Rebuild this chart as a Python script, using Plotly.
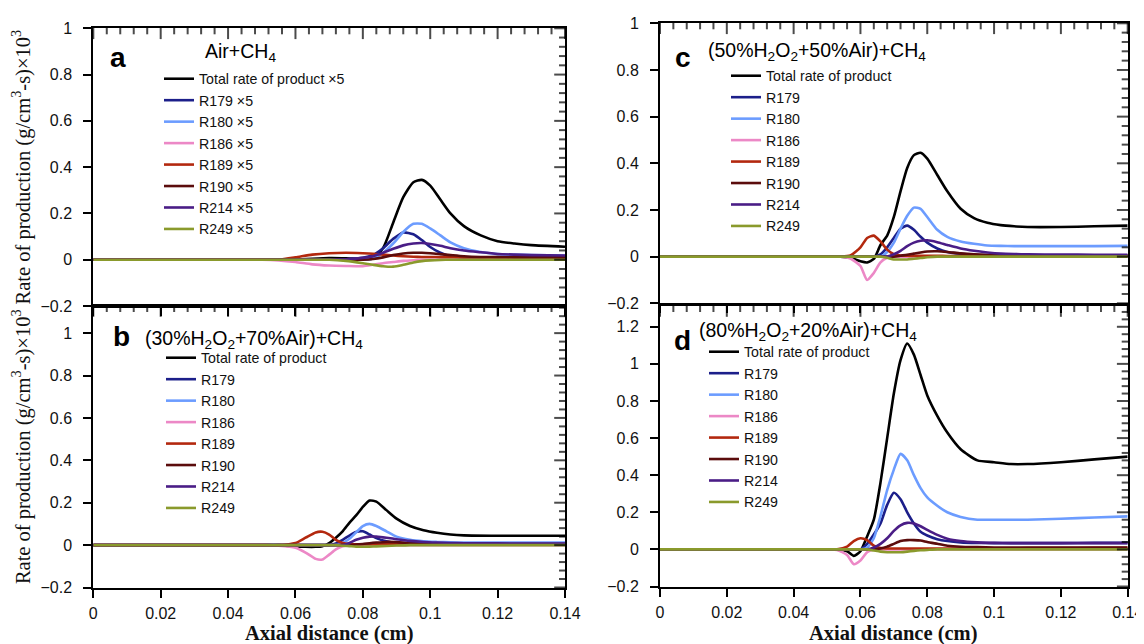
import plotly.graph_objects as go

# ---------------- data ----------------
SERIES_NAMES = ["Total rate of product", "R179", "R180", "R186", "R189", "R190", "R214", "R249"]
PANEL_A_SUFFIX = " ×5"

# Panel a: Air + CH4 (values x5)
A_X = [0, 0.05, 0.055, 0.06, 0.065, 0.07, 0.075, 0.08, 0.083, 0.086, 0.089, 0.092, 0.095,
       0.0975, 0.1, 0.103, 0.106, 0.11, 0.115, 0.12, 0.125, 0.13, 0.14]
A_TOTAL = [0, 0, 0, 0, 0.004, 0.007, 0.006, 0.003, 0.005, 0.05, 0.16, 0.27, 0.335,
           0.345, 0.32, 0.26, 0.2, 0.145, 0.105, 0.08, 0.07, 0.063, 0.056]
A_R179 = [0, 0, 0, 0, 0, 0, 0.002, 0.008, 0.02, 0.05, 0.09, 0.118, 0.11,
          0.085, 0.055, 0.03, 0.015, 0.01, 0.01, 0.011, 0.012, 0.012, 0.012]
A_R180 = [0, 0, 0, 0, 0, 0, 0, 0, 0.005, 0.03, 0.07, 0.12, 0.155,
          0.155, 0.135, 0.105, 0.075, 0.05, 0.033, 0.025, 0.022, 0.02, 0.018]
A_R186 = [0, 0, -0.003, -0.01, -0.02, -0.025, -0.027, -0.028, -0.022, -0.015, -0.01, -0.005, -0.002,
          0, 0, 0, 0, 0, 0, 0, 0, 0, 0]
A_R189 = [0, 0, 0, 0.01, 0.022, 0.028, 0.03, 0.028, 0.026, 0.022, 0.018, 0.015, 0.013,
          0.012, 0.012, 0.011, 0.011, 0.01, 0.01, 0.01, 0.01, 0.01, 0.01]
A_R190 = [0, 0, 0, 0, 0, 0, 0, 0, 0.003, 0.01, 0.02, 0.027, 0.03,
          0.03, 0.028, 0.024, 0.02, 0.015, 0.012, 0.011, 0.01, 0.01, 0.01]
A_R214 = [0, 0, 0, 0, 0, 0, 0.002, 0.008, 0.015, 0.03, 0.047, 0.062, 0.07,
          0.072, 0.068, 0.06, 0.05, 0.04, 0.032, 0.025, 0.022, 0.02, 0.018]
A_R249 = [0, 0, 0, 0, 0, 0, -0.005, -0.015, -0.022, -0.028, -0.03, -0.022, -0.012,
          -0.006, -0.003, -0.001, 0, 0, 0, 0, 0, 0, 0]

# Panel b: (30%H2O2+70%Air)+CH4
B_X = [0, 0.05, 0.055, 0.06, 0.063, 0.066, 0.068, 0.07, 0.072, 0.074, 0.076, 0.078,
       0.08, 0.082, 0.084, 0.087, 0.09, 0.094, 0.098, 0.102, 0.106, 0.11, 0.12, 0.14]
B_TOTAL = [0, 0, 0, -0.006, -0.008, -0.008, -0.005, 0.01, 0.035, 0.065, 0.105, 0.14,
           0.18, 0.21, 0.205, 0.165, 0.125, 0.09, 0.07, 0.058, 0.05, 0.046, 0.044, 0.044]
B_R179 = [0, 0, 0, 0, 0, 0, 0, 0, 0.008, 0.025, 0.045, 0.062,
          0.065, 0.05, 0.033, 0.018, 0.01, 0.006, 0.005, 0.005, 0.005, 0.005, 0.005, 0.005]
B_R180 = [0, 0, 0, 0, 0, 0, 0, 0, 0.002, 0.01, 0.03, 0.06,
          0.09, 0.1, 0.09, 0.065, 0.04, 0.025, 0.018, 0.015, 0.013, 0.012, 0.012, 0.012]
B_R186 = [0, 0, -0.003, -0.012, -0.035, -0.065, -0.068, -0.045, -0.02, -0.005, 0, 0,
          0, 0, 0, 0, 0, 0, 0, 0, 0, 0, 0, 0]
B_R189 = [0, 0, 0, 0.01, 0.035, 0.06, 0.063, 0.05, 0.025, 0.01, 0.005, 0.004,
          0.004, 0.004, 0.004, 0.004, 0.004, 0.003, 0.003, 0.003, 0.003, 0.003, 0.003, 0.003]
B_R190 = [0, 0, 0, 0, 0, 0, 0, 0, 0, 0, 0, 0.003,
          0.005, 0.009, 0.012, 0.015, 0.014, 0.01, 0.008, 0.007, 0.006, 0.005, 0.005, 0.005]
B_R214 = [0, 0, 0, 0, 0, 0, 0, 0, 0, 0, 0.01, 0.025,
          0.035, 0.04, 0.04, 0.035, 0.028, 0.02, 0.015, 0.012, 0.01, 0.009, 0.008, 0.007]
B_R249 = [0, 0, 0, 0, 0, 0, 0, 0, 0, -0.003, -0.005, -0.007,
          -0.008, -0.007, -0.006, -0.004, -0.002, 0, 0, 0, 0, 0, 0, 0]

# Panel c: (50%H2O2+50%Air)+CH4
C_X = [0, 0.05, 0.054, 0.057, 0.06, 0.062, 0.064, 0.066, 0.068, 0.07, 0.072, 0.074, 0.076,
       0.078, 0.08, 0.083, 0.086, 0.09, 0.094, 0.098, 0.102, 0.106, 0.11, 0.12, 0.13, 0.14]
C_TOTAL = [0, 0, 0, -0.005, -0.02, -0.025, -0.01, 0.05, 0.09, 0.17, 0.28, 0.38, 0.435,
           0.445, 0.42, 0.35, 0.28, 0.205, 0.165, 0.145, 0.135, 0.13, 0.127, 0.127, 0.13, 0.133]
C_R179 = [0, 0, 0, 0, 0, 0, 0, 0.01, 0.04, 0.08, 0.12, 0.133, 0.115,
          0.085, 0.06, 0.035, 0.02, 0.012, 0.008, 0.006, 0.005, 0.005, 0.005, 0.005, 0.005, 0.005]
C_R180 = [0, 0, 0, 0, 0, 0, 0, 0, 0.02, 0.06, 0.12, 0.175, 0.21,
          0.205, 0.17, 0.115, 0.085, 0.065, 0.055, 0.048, 0.046, 0.045, 0.045, 0.045, 0.045, 0.046]
C_R186 = [0, 0, 0, -0.008, -0.04, -0.1, -0.07, -0.025, -0.005, 0, 0, 0, 0,
          0, 0, 0, 0, 0, 0, 0, 0, 0, 0, 0, 0, 0]
C_R189 = [0, 0, 0, 0.005, 0.04, 0.08, 0.09, 0.065, 0.03, 0.01, 0.005, 0.004, 0.004,
          0.004, 0.004, 0.004, 0.003, 0.003, 0.003, 0.003, 0.003, 0.003, 0.003, 0.003, 0.003, 0.003]
C_R190 = [0, 0, 0, 0, 0, 0, 0, 0, 0, 0, 0.004, 0.008, 0.013,
          0.018, 0.022, 0.023, 0.02, 0.014, 0.01, 0.008, 0.007, 0.006, 0.005, 0.005, 0.005, 0.005]
C_R214 = [0, 0, 0, 0, 0, 0, 0, 0, 0, 0.01, 0.025, 0.045, 0.06,
          0.068, 0.07, 0.062, 0.05, 0.035, 0.025, 0.018, 0.013, 0.011, 0.01, 0.009, 0.008, 0.008]
C_R249 = [0, 0, 0, 0, 0, 0, 0, 0, -0.005, -0.012, -0.012, -0.012, -0.009,
          -0.006, -0.003, 0, 0, 0, 0, 0, 0, 0, 0, 0, 0, 0]

# Panel d: (80%H2O2+20%Air)+CH4
D_X = [0, 0.05, 0.053, 0.056, 0.058, 0.06, 0.062, 0.064, 0.066, 0.068, 0.07, 0.072, 0.074,
       0.076, 0.078, 0.08, 0.083, 0.086, 0.09, 0.095, 0.1, 0.105, 0.11, 0.12, 0.13, 0.14]
D_TOTAL = [0, 0, 0, -0.01, -0.035, -0.01, 0.07, 0.16, 0.36, 0.6, 0.84, 1.02, 1.11,
           1.05, 0.94, 0.83, 0.72, 0.63, 0.54, 0.48, 0.47, 0.46, 0.46, 0.47, 0.485, 0.5]
D_R179 = [0, 0, 0, 0, 0, 0, 0.03, 0.08, 0.14, 0.24, 0.305, 0.27, 0.2,
          0.14, 0.095, 0.075, 0.055, 0.045, 0.038, 0.035, 0.034, 0.034, 0.034, 0.034, 0.035, 0.035]
D_R180 = [0, 0, 0, 0, 0, 0, 0.01, 0.06, 0.18, 0.32, 0.43, 0.515, 0.48,
          0.4, 0.33, 0.28, 0.235, 0.2, 0.175, 0.16, 0.16, 0.16, 0.16, 0.165, 0.172, 0.178]
D_R186 = [0, 0, -0.003, -0.03, -0.08, -0.06, -0.015, 0, 0, 0, 0, 0, 0,
          0, 0, 0, 0, 0, 0, 0, 0, 0, 0, 0, 0, 0]
D_R189 = [0, 0, 0, 0.015, 0.045, 0.06, 0.05, 0.02, 0.008, 0.005, 0.005, 0.005, 0.005,
          0.005, 0.005, 0.005, 0.005, 0.005, 0.005, 0.005, 0.006, 0.006, 0.007, 0.007, 0.008, 0.008]
D_R190 = [0, 0, 0, 0, 0, 0, 0, 0, 0.005, 0.015, 0.03, 0.045, 0.05,
          0.05, 0.048, 0.04, 0.03, 0.02, 0.014, 0.012, 0.01, 0.01, 0.01, 0.01, 0.01, 0.01]
D_R214 = [0, 0, 0, 0, 0, 0, 0, 0.01, 0.03, 0.06, 0.1, 0.13, 0.143,
          0.14, 0.125, 0.105, 0.078, 0.058, 0.045, 0.038, 0.035, 0.034, 0.034, 0.034, 0.034, 0.034]
D_R249 = [0, 0, 0, 0, 0, 0, 0, -0.006, -0.012, -0.015, -0.015, -0.015, -0.012,
          -0.008, -0.005, -0.003, 0, 0, 0, 0, 0, 0, 0, 0, 0, 0]

PANEL_LETTERS = ["a", "b", "c", "d"]
PANEL_TITLES = ["Air+CH<sub>4</sub>",
                "(30%H<sub>2</sub>O<sub>2</sub>+70%Air)+CH<sub>4</sub>",
                "(50%H<sub>2</sub>O<sub>2</sub>+50%Air)+CH<sub>4</sub>",
                "(80%H<sub>2</sub>O<sub>2</sub>+20%Air)+CH<sub>4</sub>"]
X_TITLE = "<b>Axial distance (cm)</b>"
Y_TITLE = "Rate of production (g/cm<sup>3</sup>-s)×10<sup>3</sup>"

# ---------------- styles ----------------
COLORS = ["#000000", "#1c1f8a", "#6c9cff", "#ec88c6", "#b3280e", "#5b0c0c", "#4a1d86", "#8a9a2c"]
W, H = 1144, 644
OFF = 8  # page body margin offset of the rendered figure
SANS = "Liberation Sans, Arial, sans-serif"
SERIF = "Liberation Serif, Times New Roman, serif"
X_RANGE = [0, 0.14]
X_MAJOR, X_MINOR = 0.02, 0.004
Y_MAJOR, Y_MINOR = 0.2, 0.04
MAJ_LEN, MIN_LEN = 9, 5


def fx(px):
    return (px - OFF) / W


def fy(py):
    return 1 - (py - OFF) / H


def steps(lo, hi, step):
    n = int((hi - lo) / step + 1e-6)
    return [round(lo + k * step, 6) for k in range(n + 1)]


def is_major(v, majors):
    return any(abs(v - m) < 1e-9 for m in majors)


panels = [
    dict(x=A_X, ys=[A_TOTAL, A_R179, A_R180, A_R186, A_R189, A_R190, A_R214, A_R249],
         xd=(93.3, 565), yd=(28.3, 306), yr=[-0.2, 1.0], suffix=PANEL_A_SUFFIX),
    dict(x=B_X, ys=[B_TOTAL, B_R179, B_R180, B_R186, B_R189, B_R190, B_R214, B_R249],
         xd=(93.3, 565), yd=(306, 587.5), yr=[-0.2, 1.128], suffix=""),
    dict(x=C_X, ys=[C_TOTAL, C_R179, C_R180, C_R186, C_R189, C_R190, C_R214, C_R249],
         xd=(660, 1127.7), yd=(23.3, 303.3), yr=[-0.2, 1.0], suffix=""),
    dict(x=D_X, ys=[D_TOTAL, D_R179, D_R180, D_R186, D_R189, D_R190, D_R214, D_R249],
         xd=(660, 1127.7), yd=(306, 586.5), yr=[-0.2, 1.312], suffix=""),
]

legend_pos = [(159, 63), (161, 342), (726, 60), (704, 336)]
letter_pos = [(118, 57), (121, 336), (683, 57), (682, 340)]
title_pos = [(203, 53), (143, 339), (706, 51), (697, 331)]
xtitle_pos = [None, (329, 633), None, (893, 633)]

fig = go.Figure()
layout = dict(width=W, height=H, paper_bgcolor="white", plot_bgcolor="white",
              margin=dict(l=0, r=0, t=0, b=0, pad=0, autoexpand=False), showlegend=True,
              font=dict(family=SANS, size=16, color="#111"))
annotations = []
TICKFONT = dict(family=SANS, size=16, color="#111")

for i, p in enumerate(panels):
    n = i + 1
    xa = "x" if n == 1 else f"x{n}"
    ya = "y" if n == 1 else f"y{n}"
    xk = "xaxis" if n == 1 else f"xaxis{n}"
    yk = "yaxis" if n == 1 else f"yaxis{n}"
    lg = "legend" if n == 1 else f"legend{n}"
    for j, (name, ys) in enumerate(zip(SERIES_NAMES, p["ys"])):
        fig.add_trace(go.Scatter(
            x=p["x"], y=ys, mode="lines", name=name + p["suffix"],
            line=dict(color=COLORS[j], width=2.6, shape="spline", smoothing=0.6),
            xaxis=xa, yaxis=ya, legend=lg, legendgroup=f"p{n}s{j}",
        ))

    # tick marks drawn as line markers: outside on bottom/left, inside on top/right
    x0, x1 = X_RANGE
    y0, y1 = p["yr"]
    ux = (x1 - x0) / (p["xd"][1] - p["xd"][0])   # data units per pixel
    uy = (y1 - y0) / (p["yd"][1] - p["yd"][0])
    xmaj = steps(x0, x1, X_MAJOR)
    ymaj = steps(y0, y1, Y_MAJOR)
    tx_, ty_, ts_ = [], [], []
    for v in steps(x0, x1, X_MINOR):
        ln = MAJ_LEN if is_major(v, xmaj) else MIN_LEN
        tx_ += [v, v]
        ty_ += [y0 - ln / 2 * uy, y1 - ln / 2 * uy]
        ts_ += [ln, ln]
    fig.add_trace(go.Scatter(
        x=tx_, y=ty_, mode="markers", showlegend=False, hoverinfo="skip", cliponaxis=False,
        marker=dict(symbol="line-ns", size=ts_, color="black", line=dict(color="black", width=2)),
        xaxis=xa, yaxis=ya, legend=lg,
    ))
    tx_, ty_, ts_ = [], [], []
    for v in steps(y0, y1, Y_MINOR):
        ln = MAJ_LEN if is_major(v, ymaj) else MIN_LEN
        ty_ += [v, v]
        tx_ += [x0 - ln / 2 * ux, x1 - ln / 2 * ux]
        ts_ += [ln, ln]
    fig.add_trace(go.Scatter(
        x=tx_, y=ty_, mode="markers", showlegend=False, hoverinfo="skip", cliponaxis=False,
        marker=dict(symbol="line-ew", size=ts_, color="black", line=dict(color="black", width=2)),
        xaxis=xa, yaxis=ya, legend=lg,
    ))

    show_x = n in (2, 4)
    xdom = [fx(p["xd"][0]), fx(p["xd"][1])]
    ydom = [fy(p["yd"][1]), fy(p["yd"][0])]
    base = dict(showline=True, linewidth=2, linecolor="black", mirror=True,
                showgrid=False, zeroline=False, tickmode="linear",
                ticks="outside", ticklen=8, tickwidth=2, tickcolor="#000000",
                tickfont=TICKFONT)
    layout[xk] = dict(base, domain=xdom, range=X_RANGE, dtick=X_MAJOR, tick0=0,
                      showticklabels=show_x, anchor=ya, ticklabelstandoff=2)
    layout[yk] = dict(
        base, domain=ydom, range=p["yr"], dtick=Y_MAJOR, tick0=0, anchor=xa,
        ticklabelstandoff=8,
        title=dict(text=Y_TITLE if n in (1, 2) else "",
                   font=dict(family=SERIF, size=20.5, color="#111"), standoff=12),
    )

    lx, ly = legend_pos[i]
    layout[lg] = dict(x=fx(lx), y=fy(ly), xanchor="left", yanchor="top",
                      bgcolor="rgba(0,0,0,0)", borderwidth=0,
                      font=dict(family=SANS, size=14.2, color="#111"),
                      traceorder="grouped", tracegroupgap=0)
    px, py = letter_pos[i]
    annotations.append(dict(text=f"<b>{PANEL_LETTERS[i]}</b>", x=fx(px), y=fy(py),
                            xref="paper", yref="paper", xanchor="center", yanchor="middle",
                            showarrow=False, font=dict(family=SANS, size=28, color="black")))
    tx, ty = title_pos[i]
    annotations.append(dict(text=PANEL_TITLES[i], x=fx(tx), y=fy(ty), xanchor="left",
                            yanchor="middle", xref="paper", yref="paper", showarrow=False,
                            font=dict(family=SANS, size=19.5, color="black")))
    if xtitle_pos[i] is not None:
        ax_, ay_ = xtitle_pos[i]
        annotations.append(dict(text=X_TITLE, x=fx(ax_), y=fy(ay_), xanchor="center",
                                yanchor="middle", xref="paper", yref="paper", showarrow=False,
                                font=dict(family=SERIF, size=20.5, color="#111")))

layout["annotations"] = annotations
fig.update_layout(**layout)
fig.write_html("out.html")
